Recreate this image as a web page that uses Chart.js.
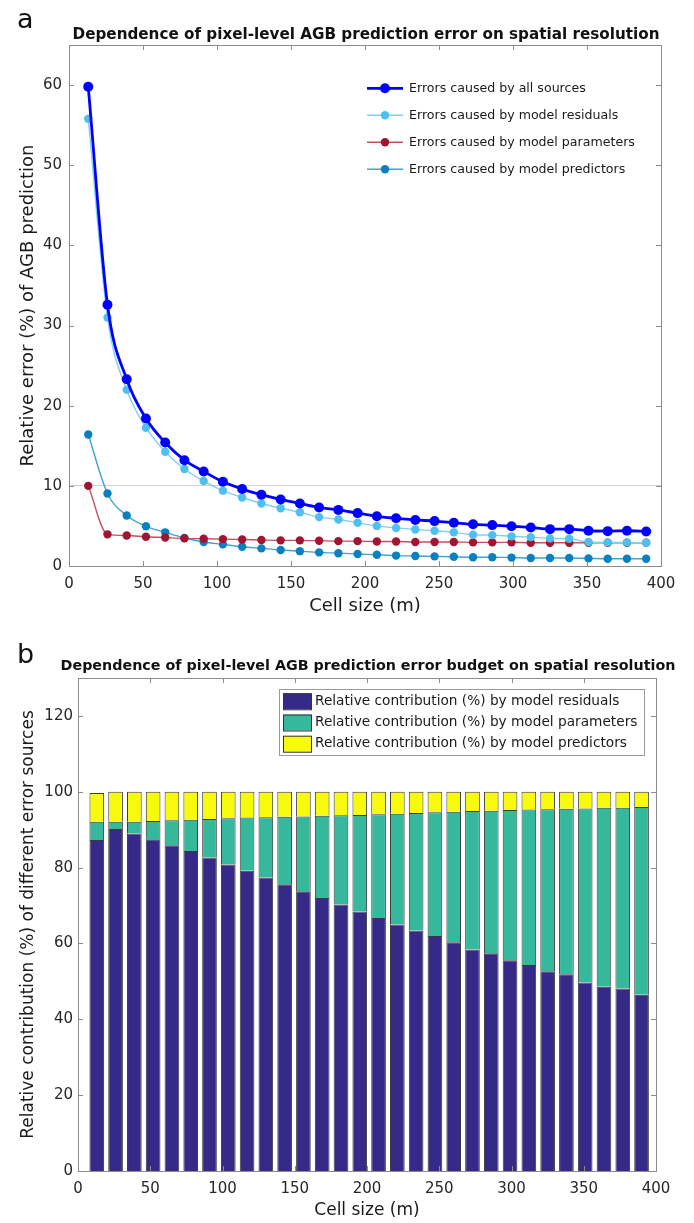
<!DOCTYPE html>
<html lang="en">
<head>
<meta charset="UTF-8">
<title>AGB prediction error vs spatial resolution</title>
<script src="https://cdn.jsdelivr.net/npm/chart.js"></script>
<style>
  html, body { margin: 0; padding: 0; background: #fff; }
  body { width: 694px; height: 1223px; position: relative; overflow: hidden; font-family: "DejaVu Sans", sans-serif; color: #111; }
  .panel { position: absolute; left: 0; width: 694px; }
  #wrapA { top: 0; height: 620px; }
  #wrapB { top: 620px; height: 603px; }
  .letter { position: absolute; left: 17px; font-size: 27px; line-height: 1; }
  .title { position: absolute; white-space: nowrap; font-weight: bold; transform: translateX(-50%); }
</style>
</head>
<body>
<div class="panel" id="wrapA"><canvas id="chartA"></canvas></div>
<div class="panel" id="wrapB"><canvas id="chartB"></canvas></div>
<div class="letter" style="top:5px">a</div>
<div class="letter" style="top:640px">b</div>
<div class="title" style="left:366px; top:25px; font-size:15.2px; line-height:18px">Dependence of pixel-level AGB prediction error on spatial resolution</div>
<div class="title" style="left:368px; top:657px; font-size:14.3px; line-height:17px">Dependence of pixel-level AGB prediction error budget on spatial resolution</div>
<script>
// cell sizes (m)
const cellSize = [13, 26, 39, 52, 65, 78, 91, 104, 117, 130, 143, 156, 169, 182, 195,
                  208, 221, 234, 247, 260, 273, 286, 299, 312, 325, 338, 351, 364, 377, 390];

// panel a: relative error (%) of AGB prediction
const errAll        = [59.8, 32.6, 23.3, 18.4, 15.4, 13.2, 11.8, 10.5, 9.6, 8.9, 8.3, 7.8, 7.3, 7.0, 6.6,
                       6.2, 5.95, 5.75, 5.6, 5.4, 5.2, 5.1, 4.95, 4.8, 4.6, 4.6, 4.4, 4.35, 4.4, 4.3];
const errResiduals  = [55.8, 31.0, 22.0, 17.25, 14.25, 12.1, 10.6, 9.4, 8.55, 7.8, 7.2, 6.7, 6.1, 5.8, 5.4,
                       5.0, 4.75, 4.55, 4.4, 4.2, 3.9, 3.85, 3.7, 3.6, 3.45, 3.4, 3.0, 2.95, 2.95, 2.9];
const errParameters = [10.0, 3.95, 3.8, 3.65, 3.55, 3.45, 3.4, 3.35, 3.3, 3.25, 3.2, 3.2, 3.15, 3.1, 3.1,
                       3.05, 3.05, 3.0, 3.0, 3.0, 2.95, 2.95, 2.95, 2.9, 2.9, 2.9, 2.9, 2.9, 2.9, 2.9];
const errPredictors = [16.4, 9.05, 6.3, 4.95, 4.2, 3.5, 3.0, 2.7, 2.4, 2.2, 2.0, 1.85, 1.7, 1.6, 1.5,
                       1.4, 1.3, 1.25, 1.2, 1.15, 1.1, 1.1, 1.05, 1.0, 1.0, 1.0, 0.95, 0.9, 0.9, 0.9];

// panel b: relative contribution (%) of each error source
const shareResiduals  = [87.3, 90.2, 89.0, 87.5, 85.9, 84.4, 82.7, 80.8, 79.2, 77.4, 75.6, 73.8, 72.0, 70.3, 68.4,
                         66.7, 65.0, 63.4, 62.0, 60.3, 58.4, 57.4, 55.6, 54.3, 52.7, 51.9, 49.7, 48.6, 48.1, 46.5];
const shareParameters = [4.8, 1.9, 3.1, 4.8, 6.6, 8.2, 10.1, 12.2, 14.0, 15.9, 17.8, 19.7, 21.7, 23.5, 25.5,
                         27.4, 29.2, 31.0, 32.6, 34.4, 36.5, 37.6, 39.6, 41.0, 42.7, 43.6, 45.9, 47.2, 47.7, 49.5];
const sharePredictors = [7.6, 7.9, 7.9, 7.7, 7.5, 7.4, 7.2, 7.0, 6.8, 6.7, 6.6, 6.5, 6.3, 6.2, 6.1,
                         5.9, 5.8, 5.6, 5.4, 5.3, 5.1, 5.0, 4.8, 4.7, 4.6, 4.5, 4.4, 4.2, 4.2, 4.0];

const xTickStep = 50;
const yTickStepA = 10;
const yTickStepB = 20;

Chart.defaults.font.family = '"DejaVu Sans", sans-serif';
Chart.defaults.color = '#262626';

const pairs = ys => ys.map((y, i) => ({ x: cellSize[i], y: y }));

// MATLAB-like axes box with inward tick marks on all four sides
const boxTicks = {
  id: 'boxTicks',
  afterDraw(chart, args, o) {
    const { ctx, chartArea: a, scales } = chart;
    ctx.save();
    ctx.strokeStyle = o.color;
    ctx.lineWidth = 1;
    ctx.strokeRect(Math.round(a.left) + 0.5, Math.round(a.top) + 0.5,
                   Math.round(a.right - a.left), Math.round(a.bottom - a.top));
    ctx.beginPath();
    scales.x.ticks.forEach(t => {
      const px = Math.round(scales.x.getPixelForValue(t.value)) + 0.5;
      ctx.moveTo(px, a.bottom); ctx.lineTo(px, a.bottom - o.length);
      ctx.moveTo(px, a.top); ctx.lineTo(px, a.top + o.length);
    });
    scales.y.ticks.forEach(t => {
      const py = Math.round(scales.y.getPixelForValue(t.value)) + 0.5;
      ctx.moveTo(a.left, py); ctx.lineTo(a.left + o.length, py);
      ctx.moveTo(a.right, py); ctx.lineTo(a.right - o.length, py);
    });
    ctx.stroke();
    ctx.restore();
  }
};

// legend with line + marker samples, no frame
const lineLegend = {
  id: 'lineLegend',
  afterDraw(chart, args, o) {
    const ctx = chart.ctx;
    ctx.save();
    ctx.font = o.font;
    ctx.textBaseline = 'middle';
    chart.data.datasets.forEach((ds, i) => {
      const y = o.y + i * o.rowGap;
      ctx.strokeStyle = ds.borderColor;
      ctx.lineWidth = ds.borderWidth;
      ctx.beginPath();
      ctx.moveTo(o.x, y);
      ctx.lineTo(o.x + o.sample, y);
      ctx.stroke();
      ctx.fillStyle = ds.pointBackgroundColor;
      ctx.beginPath();
      ctx.arc(o.x + o.sample / 2, y, ds.pointRadius, 0, Math.PI * 2);
      ctx.fill();
      ctx.fillStyle = o.color;
      ctx.fillText(ds.label, o.x + o.sample + o.gap, y);
    });
    ctx.restore();
  }
};

// framed legend with colour swatches
const boxLegend = {
  id: 'boxLegend',
  afterDraw(chart, args, o) {
    const ctx = chart.ctx;
    ctx.save();
    ctx.fillStyle = '#fff';
    ctx.fillRect(o.x, o.y, o.w, o.h);
    ctx.strokeStyle = o.frame;
    ctx.lineWidth = 1;
    ctx.strokeRect(o.x + 0.5, o.y + 0.5, o.w, o.h);
    ctx.font = o.font;
    ctx.textBaseline = 'middle';
    chart.data.datasets.forEach((ds, i) => {
      const cy = o.y + o.firstRow + i * o.rowGap;
      ctx.fillStyle = ds.backgroundColor;
      ctx.fillRect(o.x + 4, cy - 8, 28, 16);
      ctx.strokeStyle = '#333';
      ctx.strokeRect(o.x + 4.5, cy - 7.5, 28, 16);
      ctx.fillStyle = o.color;
      ctx.fillText(ds.label, o.x + 36, cy);
    });
    ctx.restore();
  }
};

const lineSet = (label, data, marker, line, width, radius) => ({
  label: label,
  data: pairs(data),
  borderColor: line,
  borderWidth: width,
  pointBackgroundColor: marker,
  pointBorderColor: marker,
  pointBorderWidth: 0,
  pointRadius: radius,
  cubicInterpolationMode: 'monotone',
  fill: false
});

new Chart(document.getElementById('chartA'), {
  type: 'line',
  data: {
    datasets: [
      lineSet('Errors caused by all sources', errAll, '#0000FF', '#0000FF', 2.8, 5),
      lineSet('Errors caused by model residuals', errResiduals, '#4FC0EE', '#7FD0F2', 1.4, 4.2),
      lineSet('Errors caused by model parameters', errParameters, '#A01530', '#C5505E', 1.4, 4.2),
      lineSet('Errors caused by model predictors', errPredictors, '#0A80BF', '#40A2D2', 1.4, 4.2)
    ]
  },
  options: {
    responsive: true,
    maintainAspectRatio: false,
    animation: false,
    layout: { padding: { left: 0, right: 33, top: 45, bottom: 0 } },
    plugins: {
      legend: { display: false },
      tooltip: { enabled: false },
      boxTicks: { color: '#8c8c8c', length: 5 },
      lineLegend: { x: 367, y: 88.3, rowGap: 27, sample: 36, gap: 6, font: '12.6px "DejaVu Sans"', color: '#1a1a1a' }
    },
    scales: {
      x: {
        type: 'linear', min: 0, max: 400,
        ticks: { stepSize: xTickStep, padding: 9, font: { size: 15 } },
        grid: { display: false, drawTicks: false },
        border: { display: false },
        title: { display: true, text: 'Cell size (m)', color: '#1a1a1a', font: { size: 18 }, padding: { top: 0, bottom: 3 } },
        afterFit: s => { s.height = 54; }
      },
      y: {
        min: 0, max: 65,
        ticks: { stepSize: yTickStepA, includeBounds: false, padding: 7, font: { size: 15 } },
        grid: { drawTicks: false, color: c => (c.tick && c.tick.value === 10) ? '#d2d2d2' : 'rgba(0,0,0,0)' },
        border: { display: false },
        title: { display: true, text: 'Relative error (%) of AGB prediction', color: '#1a1a1a', font: { size: 18 }, padding: { top: 18, bottom: 0 } },
        afterFit: s => { s.width = 69; }
      }
    }
  },
  plugins: [boxTicks, lineLegend]
});

new Chart(document.getElementById('chartB'), {
  type: 'bar',
  data: {
    datasets: [
      { label: 'Relative contribution (%) by model residuals', data: pairs(shareResiduals), backgroundColor: '#352A87' },
      { label: 'Relative contribution (%) by model parameters', data: pairs(shareParameters), backgroundColor: '#36B89C' },
      { label: 'Relative contribution (%) by model predictors', data: pairs(sharePredictors), backgroundColor: '#F8FA0D' }
    ]
  },
  options: {
    responsive: true,
    maintainAspectRatio: false,
    animation: false,
    datasets: {
      bar: { borderColor: '#3a3a3a', borderWidth: 1, barPercentage: 0.78, categoryPercentage: 1 }
    },
    layout: { padding: { left: 0, right: 38, top: 58, bottom: 0 } },
    plugins: {
      legend: { display: false },
      tooltip: { enabled: false },
      boxTicks: { color: '#8c8c8c', length: 5 },
      boxLegend: { x: 279, y: 69, w: 365, h: 66, firstRow: 12.3, rowGap: 21.2, font: '13.7px "DejaVu Sans"', color: '#1a1a1a', frame: '#9a9a9a' }
    },
    scales: {
      x: {
        type: 'linear', min: 0, max: 400, stacked: true, offset: false,
        ticks: { stepSize: xTickStep, padding: 9, font: { size: 15 } },
        grid: { display: false, drawTicks: false, offset: false },
        border: { display: false },
        title: { display: true, text: 'Cell size (m)', color: '#1a1a1a', font: { size: 17 }, padding: { top: 0, bottom: 2 } },
        afterFit: s => { s.height = 52; }
      },
      y: {
        min: 0, max: 130, stacked: true,
        ticks: { stepSize: yTickStepB, includeBounds: false, padding: 5, font: { size: 15 } },
        grid: { display: false, drawTicks: false },
        border: { display: false },
        title: { display: true, text: 'Relative contribution (%) of different error sources', color: '#1a1a1a', font: { size: 17 }, padding: { top: 18, bottom: 0 } },
        afterFit: s => { s.width = 78; }
      }
    }
  },
  plugins: [boxTicks, boxLegend]
});
</script>
</body>
</html>
